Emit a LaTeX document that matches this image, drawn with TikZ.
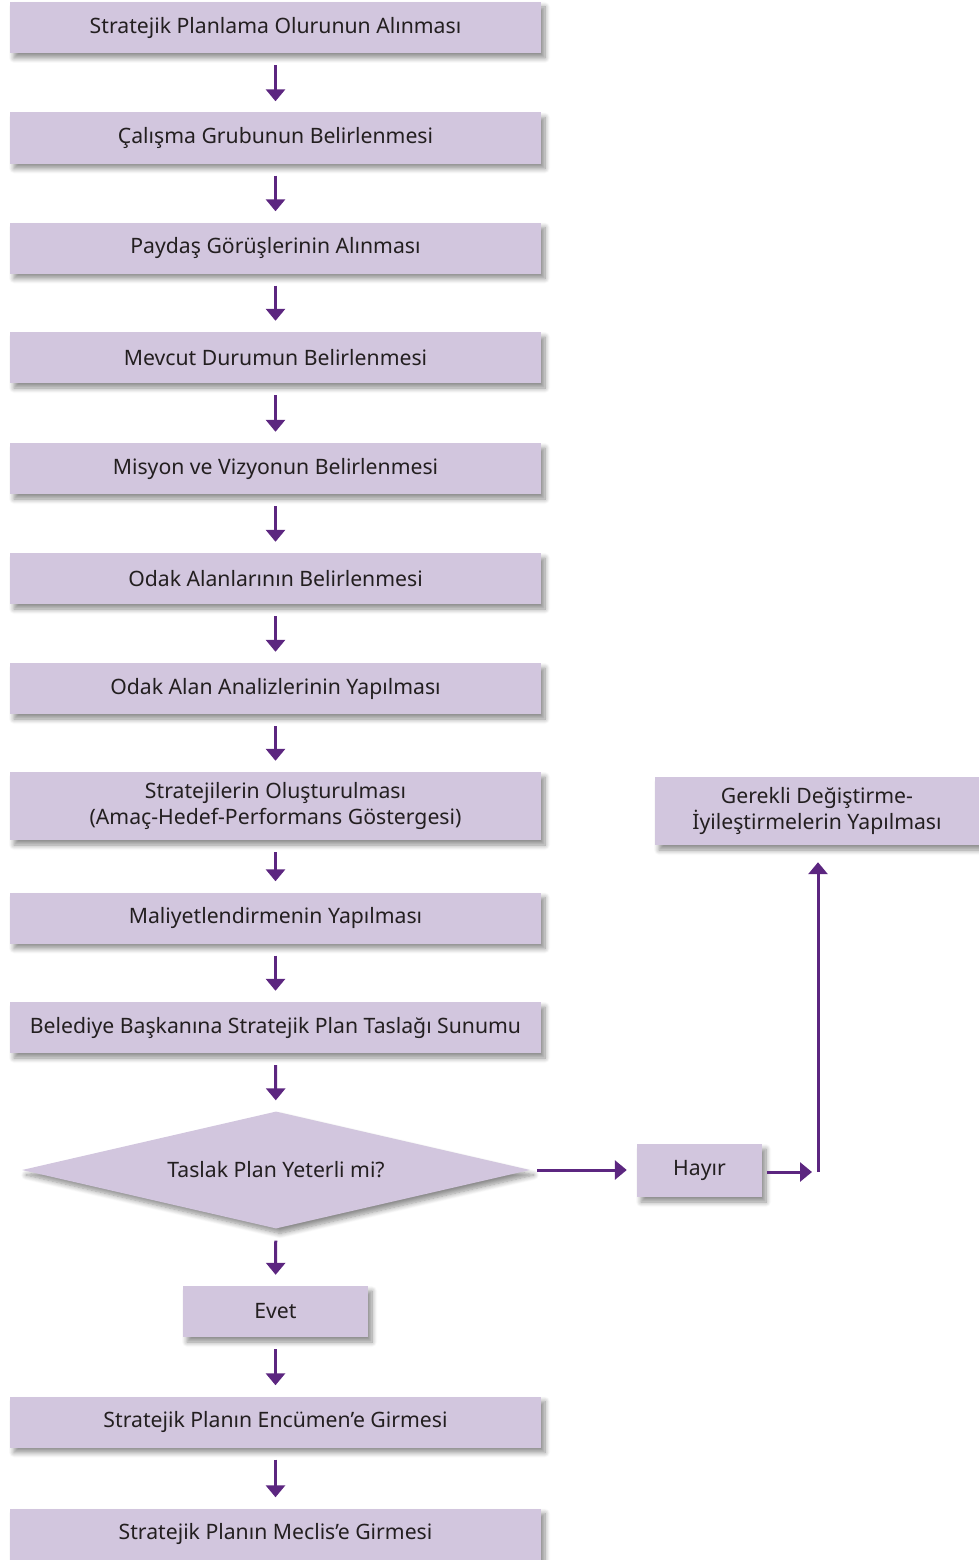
\documentclass[tikz,border=0pt]{standalone}
\usepackage{fontspec}
\setmainfont{Noto Sans}
\usetikzlibrary{arrows.meta, positioning, calc, shapes.geometric, shadows.blur}
\definecolor{planlila}{RGB}{210,198,222}
\definecolor{planmor}{RGB}{92,38,128}
\definecolor{planyazi}{RGB}{35,31,32}

\tikzset{
    adim/.style={
        rectangle,
        fill=planlila,
        text=planyazi,
        minimum width=531pt,
        minimum height=51pt,
        align=center,
        inner sep=0pt,
        font=\fontsize{21.2}{26}\selectfont,
        blur shadow={shadow xshift=4pt, shadow yshift=-5pt, shadow blur radius=5pt, shadow blur steps=8, shadow opacity=45}
    },
    karar/.style={
        adim,
        diamond,
        minimum width=508pt,
        minimum height=117pt,
        aspect=4.3
    },
    ok/.style={
        draw=planmor,
        line width=3pt,
        -{Triangle[width=19pt,length=12pt]},
        shorten <=12pt,
        shorten >=11pt
    }
}

\begin{document}
\begin{tikzpicture}[x=1pt, y=-1pt]
    \useasboundingbox (0,0) rectangle (979,1560);

    % ana akis
    \node[adim] (olur) at (275.5,27.5) {Stratejik Planlama Olurunun Alınması};
    \node[adim] (grup) at (275.5,138) {Çalışma Grubunun Belirlenmesi};
    \node[adim] (paydas) at (275.5,248) {Paydaş Görüşlerinin Alınması};
    \node[adim] (mevcut) at (275.5,357.5) {Mevcut Durumun Belirlenmesi};
    \node[adim] (misyon) at (275.5,468.5) {Misyon ve Vizyonun Belirlenmesi};
    \node[adim] (odak) at (275.5,578.5) {Odak Alanlarının Belirlenmesi};
    \node[adim] (analiz) at (275.5,688.5) {Odak Alan Analizlerinin Yapılması};
    \node[adim, minimum height=68pt] (strateji) at (275.5,806) {Stratejilerin Oluşturulması\\(Amaç-Hedef-Performans Göstergesi)};
    \node[adim] (maliyet) at (275.5,918) {Maliyetlendirmenin Yapılması};
    \node[adim] (sunum) at (275.5,1027.5) {Belediye Başkanına Stratejik Plan Taslağı Sunumu};
    \node[karar] (yeterli) at (276,1170) {Taslak Plan Yeterli mi?};
    \node[adim, minimum width=185pt] (evet) at (275.5,1311.5) {Evet};
    \node[adim] (encumen) at (275.5,1422) {Stratejik Planın Encümen’e Girmesi};
    \node[adim] (meclis) at (275.5,1534) {Stratejik Planın Meclis’e Girmesi};

    % hayir kolu
    \node[adim, minimum width=125pt, minimum height=53pt] (hayir) at (699.5,1170.5) {Hayır};
    \node[adim, minimum width=324pt, minimum height=68pt] (degisiklik) at (817,811) {Gerekli Değiştirme-\\İyileştirmelerin Yapılması};
    \coordinate (donus) at (818,1172);

    \foreach \a/\b in {olur/grup, grup/paydas, paydas/mevcut, mevcut/misyon,
        misyon/odak, odak/analiz, analiz/strateji, strateji/maliyet,
        maliyet/sunum, sunum/yeterli, yeterli/evet, evet/encumen, encumen/meclis}
        \draw[ok] (\a) -- (\b);

    \draw[ok, shorten <=7pt, shorten >=10pt] (yeterli.east) -- (yeterli.east -| hayir.west);
    \draw[ok, shorten <=5pt, shorten >=6pt] (hayir.east |- donus) -- (donus);
    \draw[ok, shorten <=0pt, shorten >=17pt] (donus) -- (degisiklik.south -| donus);
\end{tikzpicture}
\end{document}
